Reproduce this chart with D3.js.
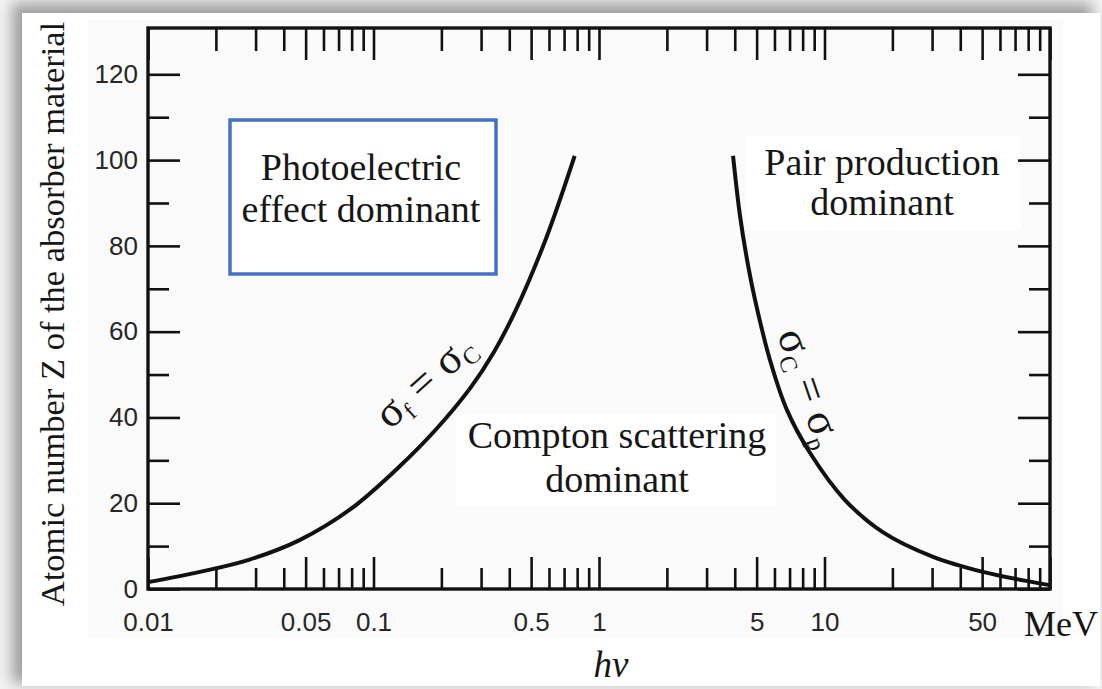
<!DOCTYPE html>
<html>
<head>
<meta charset="utf-8">
<script src="https://cdn.jsdelivr.net/npm/d3@7"></script>
<style>
  body { margin: 0; background: #ffffff; }
  .tick text { font-family: "Liberation Sans", Arial, sans-serif; font-size: 26px; fill: #262626; }
  .serif { font-family: "Liberation Serif", "Times New Roman", serif; fill: #161616; }
</style>
</head>
<body>
<svg id="chart" width="1102" height="689"></svg>
<script>
// tick values (MeV) and labels
const xMajor = [0.01, 0.05, 0.1, 0.5, 1, 5, 10, 50, 100];
const xMinor = [0.02, 0.03, 0.04, 0.06, 0.07, 0.08, 0.09,
                0.2, 0.3, 0.4, 0.6, 0.7, 0.8, 0.9,
                2, 3, 4, 6, 7, 8, 9,
                20, 30, 40, 60, 70, 80, 90];
const xLabels = ['0.01', '0.05', '0.1', '0.5', '1', '5', '10', '50', ''];
const yMajor = [0, 20, 40, 60, 80, 100, 120];
const yMinor = [10, 30, 50, 70, 90, 110];

// sigma_f = sigma_c boundary (photon energy MeV, Z)
const photoEnergy = [0.01, 0.017, 0.028, 0.047, 0.079, 0.13, 0.19, 0.27, 0.34, 0.43, 0.58, 0.78];
const photoZ      = [1.6,  4.0,   6.8,   11.4,  18.6,  28.5, 37.3, 47,   55,   65.3, 81.5, 101];

// sigma_c = sigma_p boundary
const pairEnergy = [3.93, 4.22, 4.58, 4.92, 5.73, 6.82, 8.63, 12.3, 18.2, 30.3, 50.4, 84, 100];
const pairZ      = [101,  87,   75.5, 67.4, 53.4, 41.7, 31.7, 20.8, 13.2, 7.5,  4.0,  1.6, 0.9];

const svg = d3.select('#chart');

// picture frame with a soft shadow
const defs = svg.append('defs');
const blur = defs.append('filter').attr('id', 'shadow')
    .attr('x', '-5%').attr('y', '-5%').attr('width', '110%').attr('height', '110%');
blur.append('feGaussianBlur').attr('stdDeviation', 7);

svg.append('rect').attr('width', 1102).attr('height', 689).attr('fill', '#f2f2f2');
svg.append('rect')
    .attr('x', 12).attr('y', 3).attr('width', 1080).attr('height', 680)
    .attr('fill', '#a0a0a0')
    .attr('filter', 'url(#shadow)');
svg.append('rect')
    .attr('x', 22).attr('y', 13).attr('width', 1078).attr('height', 673)
    .attr('fill', '#ffffff');
// scanned figure area (slightly off white)
svg.append('rect')
    .attr('x', 88).attr('y', 20).attr('width', 975).attr('height', 618)
    .attr('fill', '#fafafa');

const margin = {left: 148, right: 1050, top: 28, bottom: 589};

const x = d3.scaleLog()
    .domain([0.01, 100])
    .range([margin.left, margin.right]);

const y = d3.scaleLinear()
    .domain([0, 130.8])
    .range([margin.bottom, margin.top]);

// white patches behind the pasted labels
svg.append('rect').attr('x', 745).attr('y', 136).attr('width', 275).attr('height', 94).attr('fill', '#ffffff');
svg.append('rect').attr('x', 456).attr('y', 414).attr('width', 320).attr('height', 92).attr('fill', '#ffffff');
svg.append('rect').attr('x', 22).attr('y', 14).attr('width', 60).attr('height', 600).attr('fill', '#ffffff');

// axes: ticks point inward on all four sides
function drawAxis(axisFn, scale, values, size, labels, transform) {
  const ax = axisFn(scale)
      .tickValues(values)
      .tickSize(-size)
      .tickSizeOuter(0)
      .tickFormat(labels ? (d, i) => labels[i] : '');
  const g = svg.append('g').attr('transform', transform).call(ax);
  g.select('.domain').remove();
  g.selectAll('.tick line').attr('stroke', '#111').attr('stroke-width', 2.6);
  return g;
}

const bottomMajor = drawAxis(d3.axisBottom, x, xMajor, 32, xLabels, `translate(0,${margin.bottom})`);
bottomMajor.call(ax => ax.selectAll('.tick text').attr('y', 24));
drawAxis(d3.axisBottom, x, xMinor, 21, null, `translate(0,${margin.bottom})`);
drawAxis(d3.axisTop, x, xMajor, 32, null, `translate(0,${margin.top})`);
drawAxis(d3.axisTop, x, xMinor, 23, null, `translate(0,${margin.top})`);

const leftMajor = drawAxis(d3.axisLeft, y, yMajor, 32, yMajor.map(String), `translate(${margin.left},0)`);
leftMajor.call(ax => ax.selectAll('.tick text').attr('x', -10));
drawAxis(d3.axisLeft, y, yMinor, 21, null, `translate(${margin.left},0)`);
drawAxis(d3.axisRight, y, yMajor, 32, null, `translate(${margin.right},0)`);
drawAxis(d3.axisRight, y, yMinor, 21, null, `translate(${margin.right},0)`);

// plot frame
svg.append('rect')
    .attr('x', margin.left).attr('y', margin.top)
    .attr('width', margin.right - margin.left).attr('height', margin.bottom - margin.top)
    .attr('fill', 'none')
    .attr('stroke', '#111')
    .attr('stroke-width', 3.4);

// boundary curves
const line = d3.line()
    .x(d => x(d[0]))
    .y(d => y(d[1]))
    .curve(d3.curveCatmullRom.alpha(0.5));

svg.append('path')
    .datum(d3.zip(photoEnergy, photoZ))
    .attr('d', line)
    .attr('fill', 'none')
    .attr('stroke', '#111')
    .attr('stroke-width', 4);

svg.append('path')
    .datum(d3.zip(pairEnergy, pairZ))
    .attr('d', line)
    .attr('fill', 'none')
    .attr('stroke', '#111')
    .attr('stroke-width', 4);

// region labels
function label(lines, cx, y0, dy) {
  const t = svg.append('text').attr('class', 'serif')
      .attr('text-anchor', 'middle')
      .style('font-size', '38px');
  lines.forEach((s, i) => {
    t.append('tspan').attr('x', cx).attr('y', y0 + i * dy).text(s);
  });
}

// blue box around the photoelectric label
svg.append('rect')
    .attr('x', 230).attr('y', 120).attr('width', 266).attr('height', 154)
    .attr('fill', '#ffffff')
    .attr('stroke', '#4472c4')
    .attr('stroke-width', 3.5);

label(['Photoelectric', 'effect dominant'], 361, 180, 42);
label(['Pair production', 'dominant'], 882, 175, 40);
label(['Compton scattering', 'dominant'], 617, 448, 44);

// labels along the curves
function curveLabel(cx, cy, angle, a, b) {
  const t = svg.append('text').attr('class', 'serif')
      .attr('transform', `translate(${cx},${cy}) rotate(${angle})`)
      .attr('text-anchor', 'middle')
      .style('font-size', '44px');
  t.append('tspan').text('σ');
  t.append('tspan').attr('dy', 7).style('font-size', '24px').text(a);
  t.append('tspan').attr('dy', -7).text(' = σ');
  t.append('tspan').attr('dy', 7).style('font-size', '24px').text(b);
}
curveLabel(434, 391, -42, 'f', 'C');
curveLabel(797, 392, 71, 'C', 'p');

// axis titles
svg.append('text').attr('class', 'serif')
    .attr('transform', 'translate(64,314) rotate(-90)')
    .attr('text-anchor', 'middle')
    .style('font-size', '34.5px')
    .text('Atomic number Z of the absorber material');

svg.append('text').attr('class', 'serif')
    .attr('x', 611).attr('y', 677)
    .attr('text-anchor', 'middle')
    .style('font-size', '37px')
    .style('font-style', 'italic')
    .text('hv');

svg.append('text').attr('class', 'serif')
    .attr('x', 1024).attr('y', 636)
    .style('font-size', '36px')
    .text('MeV');
</script>
</body>
</html>
